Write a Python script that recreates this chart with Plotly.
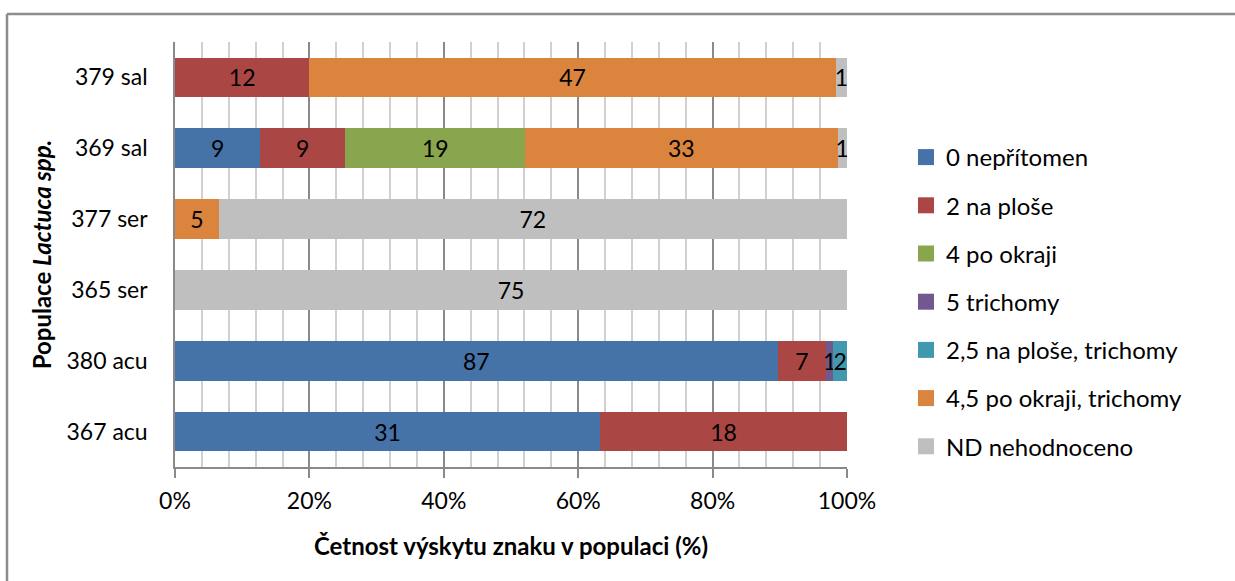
import plotly.graph_objects as go

categories = ["367 acu", "380 acu", "365 ser", "377 ser", "369 sal", "379 sal"]
series_names = ["0 nepřítomen", "2 na ploše", "4 po okraji", "5 trichomy",
                "2,5 na ploše, trichomy", "4,5 po okraji, trichomy", "ND nehodnoceno"]
colors = ["#4572A7", "#AA4643", "#89A54E", "#71588F", "#4198AF", "#DB843D", "#BFBFBF"]

# counts per series, in category order (bottom to top)
s0 = [31, 87, 0, 0, 9, 0]
s2 = [18, 7, 0, 0, 9, 12]
s4 = [0, 0, 0, 0, 19, 0]
s5 = [0, 1, 0, 0, 0, 0]
s25 = [0, 2, 0, 0, 0, 0]
s45 = [0, 0, 0, 5, 33, 47]
snd = [0, 0, 75, 72, 1, 1]
series = [s0, s2, s4, s5, s25, s45, snd]

x_ticks = [0, 20, 40, 60, 80, 100]
x_ticklabels = ["0%", "20%", "40%", "60%", "80%", "100%"]

totals = [sum(s[i] for s in series) for i in range(len(categories))]

FONT = "Lato"
fig = go.Figure()
for name, col, vals in zip(series_names, colors, series):
    pct = [v / t * 100 if v else None for v, t in zip(vals, totals)]
    txt = [str(v) if v else "" for v in vals]
    fig.add_trace(go.Bar(
        y=categories, x=pct, orientation="h", name=name,
        marker=dict(color=col, line=dict(width=0)),
        text=txt, textposition="inside", insidetextanchor="middle",
        textfont=dict(family=FONT, size=23, color="black"),
        legendgroup=name, showlegend=False,
    ))
# legend entries with larger square swatches
for name, col in zip(series_names, colors):
    fig.add_trace(go.Scatter(
        x=[None], y=[None], mode="markers", name=name,
        marker=dict(symbol="square", size=16, color=col),
        legendgroup=name, showlegend=True, hoverinfo="skip",
    ))

L, R, T, B = 175, 388, 42, 114
W, H = 1235, 581
pw, ph = W - L - R, H - T - B

def px(x):
    return (x - L) / pw

def py(y):
    return 1 - (y - T) / ph

fig.update_layout(
    width=W, height=H,
    margin=dict(l=L, r=R, t=T, b=B, autoexpand=False),
    barmode="stack", bargap=0.44,
    plot_bgcolor="white", paper_bgcolor="white",
    font=dict(family=FONT, size=23, color="black"),
    uniformtext=dict(mode="show", minsize=23),
    legend=dict(x=px(906), y=py(135), xanchor="left", yanchor="top",
                traceorder="grouped", tracegroupgap=14,
                font=dict(family=FONT, size=24, color="black"),
                itemwidth=30, bgcolor="rgba(0,0,0,0)"),
    xaxis=dict(range=[0, 100], tickvals=x_ticks, ticktext=x_ticklabels,
               showgrid=True, gridcolor="#8a8a8a", gridwidth=1.5,
               minor=dict(dtick=4, showgrid=True, gridcolor="#d0d0d0", gridwidth=1.5),
               ticks="outside", ticklen=9, tickcolor="#8a8a8a", tickwidth=1.5,
               showline=True, linecolor="#8a8a8a", linewidth=1.5,
               ticklabelstandoff=4, zeroline=False,
               title=dict(text="<b>Četnost výskytu znaku v populaci (%)</b>",
                          font=dict(family=FONT, size=24), standoff=25),
               fixedrange=True),
    yaxis=dict(categoryorder="array", categoryarray=categories,
               showline=True, linecolor="#8a8a8a", linewidth=1.5,
               ticks="", ticklabelstandoff=21, showgrid=False,
               title=dict(text="<b>Populace <i>Lactuca spp.</i></b>",
                          font=dict(family=FONT, size=24), standoff=8),
               fixedrange=True),
    showlegend=True,
)

# chart frame
fig.add_shape(type="line", xref="paper", yref="paper",
              x0=px(7), y0=py(582), x1=px(7), y1=py(14),
              line=dict(color="#8c8c8c", width=2.5))
fig.add_shape(type="line", xref="paper", yref="paper",
              x0=px(7), y0=py(14), x1=px(1236), y1=py(14),
              line=dict(color="#8c8c8c", width=2.5))

fig.write_html("out.html", config={"displayModeBar": False},
               post_script="document.body.style.margin='0';")
